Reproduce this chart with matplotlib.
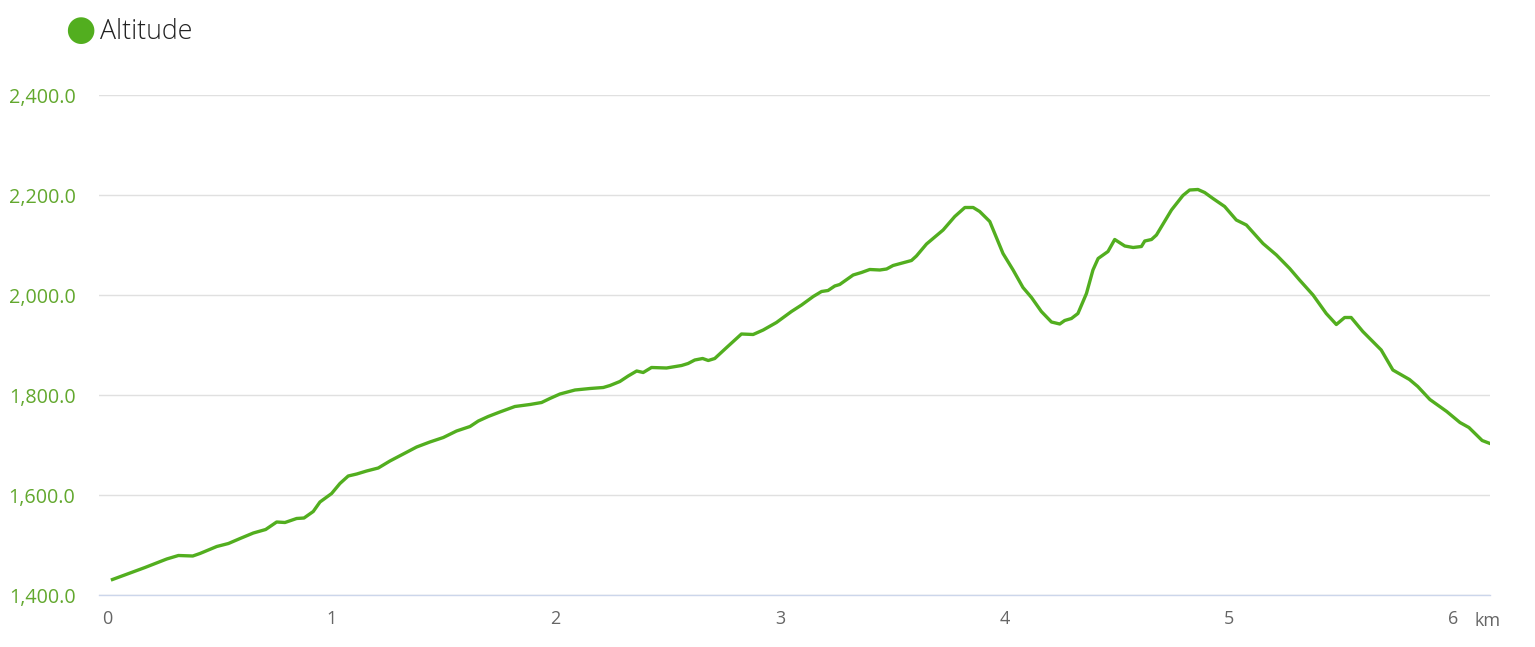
import matplotlib
matplotlib.use("Agg")
import matplotlib.pyplot as plt
from matplotlib.ticker import FuncFormatter

plt.rcParams['font.family'] = ['Open Sans', 'DejaVu Sans']

distance_km = [0.024, 0.169, 0.266, 0.318, 0.382, 0.414, 0.489, 0.541, 0.593, 0.652,
               0.707, 0.756, 0.793, 0.845, 0.878, 0.919, 0.949, 1.001, 1.038, 1.075,
               1.113, 1.157, 1.209, 1.261, 1.320, 1.380, 1.439, 1.499, 1.558, 1.618,
               1.655, 1.699, 1.751, 1.818, 1.885, 1.937, 1.974, 2.019, 2.086, 2.153,
               2.212, 2.242, 2.286, 2.323, 2.361, 2.390, 2.427, 2.494, 2.561, 2.590,
               2.620, 2.655, 2.680, 2.709, 2.762, 2.828, 2.880, 2.925, 2.984, 3.051,
               3.096, 3.148, 3.185, 3.214, 3.244, 3.266, 3.326, 3.363, 3.400, 3.445,
               3.475, 3.504, 3.586, 3.608, 3.653, 3.682, 3.727, 3.779, 3.824, 3.861,
               3.890, 3.935, 3.994, 4.039, 4.083, 4.121, 4.165, 4.210, 4.247, 4.269,
               4.299, 4.328, 4.366, 4.395, 4.418, 4.462, 4.492, 4.537, 4.574, 4.611,
               4.626, 4.656, 4.678, 4.745, 4.796, 4.826, 4.863, 4.893, 4.930, 4.982,
               5.034, 5.079, 5.153, 5.213, 5.272, 5.316, 5.376, 5.435, 5.480, 5.517,
               5.546, 5.598, 5.680, 5.732, 5.806, 5.843, 5.897, 5.972, 6.031, 6.071,
               6.130, 6.165]
altitude_m = [1431, 1455, 1472, 1479, 1478, 1483, 1497, 1503, 1513, 1524,
              1531, 1546, 1545, 1553, 1554, 1567, 1586, 1603, 1623, 1638,
              1642, 1648, 1654, 1668, 1682, 1696, 1706, 1715, 1728, 1737,
              1748, 1757, 1766, 1777, 1781, 1785, 1793, 1802, 1810, 1813,
              1815, 1819, 1827, 1838, 1848, 1845, 1855, 1854, 1859, 1863,
              1870, 1873, 1869, 1873, 1895, 1922, 1921, 1930, 1945, 1967,
              1980, 1997, 2007, 2009, 2018, 2021, 2040, 2045, 2051, 2050,
              2052, 2059, 2069, 2078, 2102, 2113, 2130, 2157, 2175, 2175,
              2167, 2147, 2083, 2050, 2015, 1995, 1967, 1946, 1942, 1949,
              1953, 1963, 2003, 2050, 2073, 2087, 2111, 2098, 2095, 2097,
              2108, 2111, 2120, 2170, 2199, 2210, 2211, 2205, 2193, 2177,
              2150, 2140, 2103, 2080, 2053, 2030, 2000, 1963, 1941, 1955,
              1955, 1927, 1890, 1850, 1831, 1817, 1791, 1767, 1745, 1735,
              1709, 1703]

x_ticks = [0, 1, 2, 3, 4, 5, 6]
y_ticks = [1400, 1600, 1800, 2000, 2200, 2400]
series_name = "Altitude"
x_unit = "km"

line_color = '#52ae1f'
W, H = 1535, 647
fig = plt.figure(figsize=(W / 100, H / 100), dpi=100)
ax = fig.add_axes([99 / W, (H - 595) / H, (1490 - 99) / W, 500 / H])

ax.plot(distance_km, altitude_m, color=line_color, lw=2.4, solid_joinstyle='round')

ax.set_xlim(-0.036, 6.165)
ax.set_ylim(1400, 2400)
ax.set_yticks(y_ticks)
ax.set_xticks(x_ticks)
ax.yaxis.set_major_formatter(FuncFormatter(lambda v, p: f"{v:,.1f}"))
ax.grid(axis='y', color='#e0e0e0', lw=1)
ax.set_axisbelow(True)
for s in ['top', 'right', 'left']:
    ax.spines[s].set_visible(False)
ax.spines['bottom'].set_color('#ccd6eb')
ax.spines['bottom'].set_linewidth(1)
ax.tick_params(axis='y', length=0, pad=17, labelsize=14.2, labelcolor='#62a82e')
ax.tick_params(axis='x', length=0, pad=11, labelsize=13, labelcolor='#666666')
for lbl in ax.get_yticklabels():
    lbl.set_horizontalalignment('right')

fig.text(1475 / W, (H - 621) / H, x_unit, fontsize=13, color='#666666',
         ha='left', va='center')

# legend
fig.text(80 / W, (H - 30) / H, "\u25CF", fontsize=25, color=line_color,
         ha='center', va='center', family='DejaVu Sans')
fig.text(100 / W, (H - 32) / H, series_name, fontsize=19.3, color='#222222',
         ha='left', va='center', fontweight='light')

fig.savefig("out.png", dpi=100, facecolor='white')
